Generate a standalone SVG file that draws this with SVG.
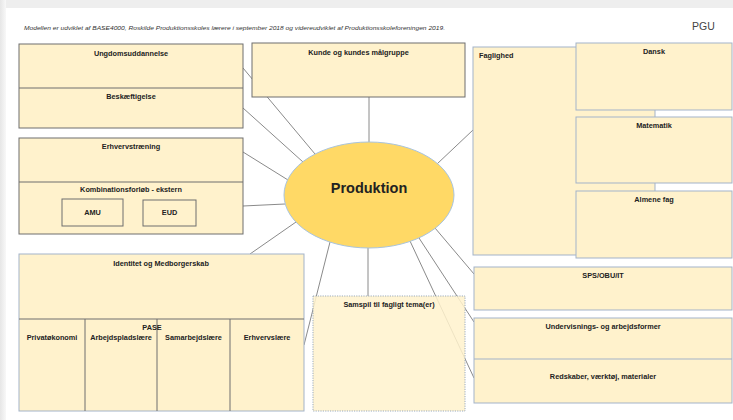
<svg xmlns="http://www.w3.org/2000/svg" width="733" height="420" viewBox="0 0 733 420">
<defs>
<style>
.bg{fill:#ffffff}
.box{fill:#fff2cc;stroke:#6e6e6e;stroke-width:1}
.boxb{fill:#fff2cc;stroke:#a3b3c9;stroke-width:1}
.div{stroke:#6e6e6e;stroke-width:1;fill:none}
.conn line{stroke:#8a8a8a;stroke-width:1}
.lbl{font-family:"Liberation Sans",Arial,sans-serif;font-size:7.3px;font-weight:bold;fill:#222;text-anchor:middle}
</style>
<linearGradient id="lg" x1="0" y1="0" x2="1" y2="0">
<stop offset="0" stop-color="#e6e6e6"/>
<stop offset="1" stop-color="#f8f8f8"/>
</linearGradient>
</defs>
<rect class="bg" x="0" y="0" width="733" height="420"/>
<rect x="0" y="0" width="733" height="8" fill="#eeeeee"/>
<rect x="0" y="0" width="6" height="420" fill="url(#lg)"/>
<text x="24" y="30" font-family="'Liberation Sans',Arial,sans-serif" font-size="5.5" font-style="italic" fill="#333" textLength="421" lengthAdjust="spacingAndGlyphs">Modellen er udviklet af BASE4000, Roskilde Produktionsskoles lærere i september 2018 og videreudviklet af Produktionsskoleforeningen 2019.</text>
<text x="692" y="30" font-family="'Liberation Sans',Arial,sans-serif" font-size="10.5" fill="#444">PGU</text>

<g id="connectors" class="conn">
<line x1="243" y1="68" x2="315" y2="154"/>
<line x1="243" y1="108" x2="303" y2="162"/>
<line x1="243" y1="152" x2="288" y2="180"/>
<line x1="243" y1="206" x2="285" y2="204"/>
<line x1="369" y1="97" x2="369" y2="142"/>
<line x1="473" y1="130" x2="437" y2="164"/>
<line x1="250" y1="254" x2="296" y2="222"/>
<line x1="330" y1="242" x2="304" y2="345"/>
<line x1="368" y1="248" x2="368" y2="296"/>
<line x1="435" y1="228" x2="474" y2="274"/>
<line x1="419" y1="238" x2="474" y2="322"/>
<line x1="410" y1="241" x2="474" y2="378"/>
</g>

<g id="ungdom">
<rect class="box" x="19" y="44" width="224" height="84"/>
<line class="div" x1="19" y1="88" x2="243" y2="88"/>
<text class="lbl" x="131" y="56">Ungdomsuddannelse</text>
<text class="lbl" x="131" y="99">Beskæftigelse</text>
</g>

<g id="erhvervstraening">
<rect class="box" x="19" y="138" width="224" height="96"/>
<line class="div" x1="19" y1="182" x2="243" y2="182"/>
<text class="lbl" x="131" y="149">Erhvervstræning</text>
<text class="lbl" x="131" y="192">Kombinationsforløb - ekstern</text>
</g>
<g id="amu">
<rect class="box" x="62" y="199" width="61" height="27"/>
<text class="lbl" x="92.5" y="215">AMU</text>
</g>
<g id="eud">
<rect class="box" x="143" y="200" width="53" height="26"/>
<text class="lbl" x="169.5" y="215">EUD</text>
</g>

<g id="kunde">
<rect class="box" x="252" y="43" width="213" height="54"/>
<text class="lbl" x="358.5" y="55">Kunde og kundes målgruppe</text>
</g>

<g id="produktion">
<ellipse cx="369" cy="195" rx="85" ry="53" fill="#ffd966" stroke="#a9c4de" stroke-width="1"/>
<text x="369" y="193" font-family="'Liberation Sans',Arial,sans-serif" font-size="14.5" font-weight="bold" fill="#222" text-anchor="middle">Produktion</text>
</g>

<g id="faglighed">
<rect class="boxb" x="473" y="47" width="182" height="208"/>
<text x="479" y="58" font-family="'Liberation Sans',Arial,sans-serif" font-size="7.3" font-weight="bold" fill="#222">Faglighed</text>
</g>
<g id="dansk">
<rect class="boxb" x="576" y="43" width="156" height="67"/>
<text class="lbl" x="654" y="54">Dansk</text>
</g>
<g id="matematik">
<rect class="boxb" x="576" y="117" width="156" height="66"/>
<text class="lbl" x="654" y="128">Matematik</text>
</g>
<g id="almene">
<rect class="boxb" x="576" y="191" width="156" height="67"/>
<text class="lbl" x="654" y="202">Almene fag</text>
</g>

<g id="sps">
<rect class="boxb" x="474" y="267" width="258" height="43"/>
<text class="lbl" x="603" y="278">SPS/OBU/IT</text>
</g>
<g id="undervisning">
<rect class="boxb" x="474" y="318" width="258" height="85"/>
<line x1="474" y1="359" x2="732" y2="359" stroke="#a3b3c9" stroke-width="1"/>
<text class="lbl" x="603" y="329">Undervisnings- og arbejdsformer</text>
<text class="lbl" x="603" y="379">Redskaber, værktøj, materialer</text>
</g>

<g id="identitet">
<rect class="boxb" x="19" y="254" width="285" height="157"/>
<line class="div" x1="19" y1="319" x2="304" y2="319"/>
<line class="div" x1="85" y1="319" x2="85" y2="411"/>
<line class="div" x1="157" y1="319" x2="157" y2="411"/>
<line class="div" x1="230" y1="319" x2="230" y2="411"/>
<text class="lbl" x="161" y="266">Identitet og Medborgerskab</text>
<text class="lbl" x="52" y="340">Privatøkonomi</text>
<text class="lbl" x="152" y="330" text-anchor="end">PASE</text>
<text class="lbl" x="121" y="340">Arbejdspladslære</text>
<text class="lbl" x="193.5" y="340">Samarbejdslære</text>
<text class="lbl" x="267" y="340">Erhvervslære</text>
</g>

<g id="samspil">
<rect x="313" y="296" width="152" height="115" fill="#fff2cc" fill-opacity="0.85" stroke="#9aaabb" stroke-width="1" stroke-dasharray="1.2,1.2"/>
<text class="lbl" x="389" y="307">Samspil til fagligt tema(er)</text>
</g>
</svg>
